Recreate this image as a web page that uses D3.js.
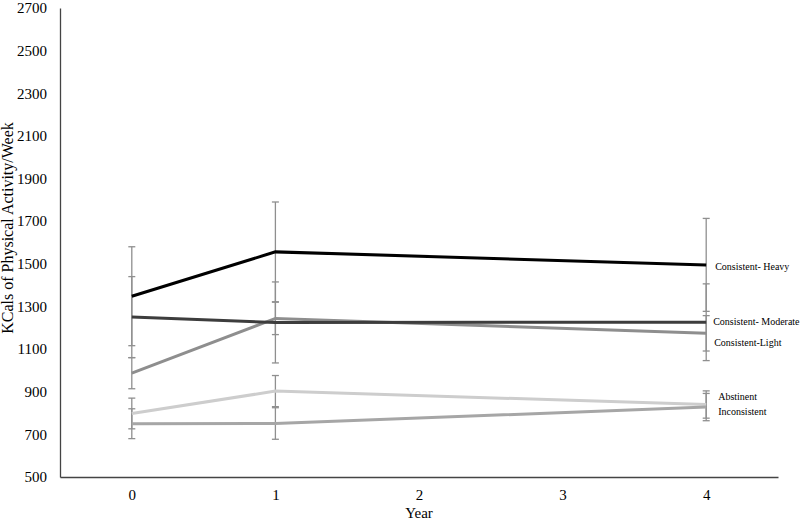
<!DOCTYPE html>
<html>

<head>
  <title>KCals of Physical Activity by Drinking Group</title>
  <script src="https://d3js.org/d3.v7.min.js"></script>
  <style>
    body { margin: 0; background: #fff; }
    svg text { font-family: "Liberation Serif", "Times New Roman", serif; fill: #000; }
  </style>
</head>

<body>
  <svg id="line-graph" height=521 width=800></svg>

  <script>
    // categories on the x axis, and the years where we actually have measurements
    const years = ["0", "1", "2", "3", "4"];
    const measuredYears = ["0", "1", "4"];
    const yTicks = [500, 700, 900, 1100, 1300, 1500, 1700, 1900, 2100, 2300, 2500, 2700];

    // means and error bar sizes
    const heavy = [1348, 1556, 1495];
    const heavyErr = [232, 234, 218];
    const moderate = [1250, 1225, 1226];
    const moderateErr = [190, 190, 180];
    const light = [987, 1244, 1174];
    const lightErr = [73, 76, 83];
    const abstinent = [798, 903, 840];
    const abstinentErr = [72, 73, 64];
    const inconsistent = [750, 751, 828];
    const inconsistentErr = [70, 74, 64];

    const seriesNames = ["Abstinent", "Inconsistent", "Consistent-Light", "Consistent- Moderate", "Consistent- Heavy"];

    const graph = d3.select("svg#line-graph");
    const margins = { top: 8, right: 22, bottom: 44, left: 60 };
    const width = graph.attr("width");
    const height = graph.attr("height");
    const graphWidth = width - margins.left - margins.right;
    const graphHeight = height - margins.top - margins.bottom;

    const xScale = d3.scalePoint()
      .domain(years)
      .range([0, graphWidth])
      .padding(0.5);
    const yScale = d3.scaleLinear()
      .domain([500, 2700])
      .range([graphHeight, 0]);

    // series table built from the arrays above
    const series = [
      { name: seriesNames[0], vals: abstinent, err: abstinentErr, color: "#cdcdcd", dx: 12, dy: -8 },
      { name: seriesNames[1], vals: inconsistent, err: inconsistentErr, color: "#a6a6a6", dx: 12, dy: 4 },
      { name: seriesNames[2], vals: light, err: lightErr, color: "#8e8e8e", dx: 8, dy: 9 },
      { name: seriesNames[3], vals: moderate, err: moderateErr, color: "#3d3d3d", dx: 7, dy: -1 },
      { name: seriesNames[4], vals: heavy, err: heavyErr, color: "#000000", dx: 9, dy: 2 }
    ];
    series.forEach(s => {
      s.points = measuredYears.map((yr, i) => ({ year: yr, val: s.vals[i], err: s.err[i] }));
    });

    let graphArea = graph.append("g")
      .attr("transform", `translate(${margins.left}, ${margins.top})`);

    // y axis - just the line and labels, no tick marks
    let leftAxis = d3.axisLeft(yScale)
      .tickValues(yTicks)
      .tickSize(0)
      .tickPadding(13)
      .tickFormat(d3.format("d"));
    let yAxisG = graphArea.append("g")
      .attr("class", "y-axis")
      .call(leftAxis);
    yAxisG.select(".domain").attr("stroke", "#444").attr("stroke-width", 1.3);
    yAxisG.selectAll("text").style("font-size", "15px");

    // x axis
    let bottomAxis = d3.axisBottom(xScale)
      .tickSize(0)
      .tickPadding(12);
    let xAxisG = graphArea.append("g")
      .attr("class", "x-axis")
      .attr("transform", `translate(0, ${graphHeight})`)
      .call(bottomAxis);
    xAxisG.select(".domain").attr("stroke", "#444").attr("stroke-width", 1.3);
    xAxisG.selectAll("text").style("font-size", "15px");

    // axis titles
    graph.append("text")
      .attr("x", margins.left + graphWidth / 2)
      .attr("y", 518)
      .attr("text-anchor", "middle")
      .style("font-size", "15px")
      .text("Year");

    graph.append("text")
      .attr("transform", `translate(13, 228) rotate(-90)`)
      .attr("text-anchor", "middle")
      .style("font-size", "16px")
      .text("KCals of Physical Activity/Week");

    // error bars first so the lines sit on top
    let errG = graphArea.append("g").attr("class", "error-bars");
    const capW = 3.5;
    series.forEach(s => {
      let g = errG.append("g");
      s.points.forEach(p => {
        const x = xScale(p.year);
        const yHi = yScale(p.val + p.err);
        const yLo = yScale(p.val - p.err);
        g.append("line")
          .attr("x1", x).attr("x2", x)
          .attr("y1", yHi).attr("y2", yLo);
        g.append("line")
          .attr("x1", x - capW).attr("x2", x + capW)
          .attr("y1", yHi).attr("y2", yHi);
        g.append("line")
          .attr("x1", x - capW).attr("x2", x + capW)
          .attr("y1", yLo).attr("y2", yLo);
      });
    });
    errG.selectAll("line")
      .attr("stroke", "#8f8f8f")
      .attr("stroke-width", 1.3);

    // lines
    const line = d3.line()
      .x(d => xScale(d.year))
      .y(d => yScale(d.val));

    series.forEach(s => {
      graphArea.append("path")
        .attr("d", line(s.points))
        .style("stroke", s.color)
        .style("stroke-width", "3px")
        .style("fill", "none");
    });

    // labels at the end of each line
    series.forEach(s => {
      const last = s.points[s.points.length - 1];
      graphArea.append("text")
        .attr("x", xScale(last.year) + s.dx)
        .attr("y", yScale(last.val) + s.dy)
        .attr("dy", "0.35em")
        .style("font-size", "10px")
        .text(s.name);
    });
  </script>
</body>

</html>
